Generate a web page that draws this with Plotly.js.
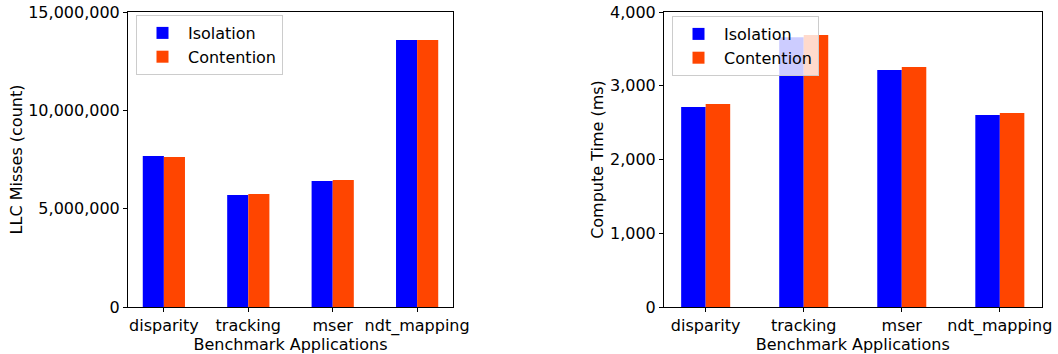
<!DOCTYPE html>
<html>
<head>
<meta charset="utf-8">
<script src="https://cdn.plot.ly/plotly-3.0.1.min.js"></script>
<style>html,body{margin:0;padding:0;background:#fff;}#chart{width:1058px;height:354px;}</style>
</head>
<body>
<div id="chart"></div>
<script>
const categories = ["disparity", "tracking", "mser", "ndt_mapping"];
const seriesNames = ["Isolation", "Contention"];
const llcIsolation = [7680000, 5690000, 6410000, 13570000];
const llcContention = [7630000, 5740000, 6460000, 13570000];
const timeIsolation = [2712, 3657, 3214, 2603];
const timeContention = [2753, 3688, 3254, 2631];
const colors = ["#0000ff", "#ff4500"];

const FONT = "DejaVu Sans, sans-serif";

function bar(y, name, color, xa, ya, legend) {
  return {type: "bar", x: categories, y: y, name: name, marker: {color: color, line: {width: 0}},
    xaxis: xa, yaxis: ya, legend: legend, hoverinfo: "x+y+name"};
}

const data = [
  bar(llcIsolation, seriesNames[0], colors[0], "x", "y", "legend"),
  bar(llcContention, seriesNames[1], colors[1], "x", "y", "legend"),
  bar(timeIsolation, seriesNames[0], colors[0], "x2", "y2", "legend2"),
  bar(timeContention, seriesNames[1], colors[1], "x2", "y2", "legend2")
];

const W = 1058, H = 354;
const yDom = [1 - 307 / H, 1 - 12 / H];

function xAxis(domain, anchor) {
  return {domain: domain, anchor: anchor, type: "category", range: [-0.425, 3.425],
    showline: true, mirror: true, linecolor: "#000", linewidth: 1,
    ticks: "outside", ticklen: 4, tickcolor: "#000", showgrid: false, zeroline: false,
    tickfont: {family: FONT, size: 16, color: "#000"},
    title: {text: "Benchmark Applications", font: {family: FONT, size: 16, color: "#000"}, standoff: 1},
    automargin: false, fixedrange: true};
}
function yAxis(anchor, range, dtick, title, standoff) {
  return {domain: yDom, anchor: anchor, range: range, dtick: dtick, tick0: 0, tickformat: ",d",
    showline: true, mirror: true, linecolor: "#000", linewidth: 1,
    ticks: "outside", ticklen: 4, tickcolor: "#000", showgrid: false, zeroline: false,
    tickfont: {family: FONT, size: 16, color: "#000"},
    title: {text: title, font: {family: FONT, size: 16, color: "#000"}, standoff: standoff},
    automargin: false, fixedrange: true};
}

const legendStyle = {bgcolor: "rgba(255,255,255,0.8)", bordercolor: "#cccccc", borderwidth: 1,
  font: {family: FONT, size: 16, color: "#000"}, xanchor: "left", yanchor: "top",
  tracegroupgap: 0, itemwidth: 41};

const layout = {
  width: W, height: H,
  margin: {l: 0, r: 0, t: 0, b: 0},
  paper_bgcolor: "#fff", plot_bgcolor: "#fff",
  barmode: "group", bargap: 0.5, bargroupgap: 0,
  showlegend: true,
  xaxis: xAxis([128 / W, 453 / W], "y"),
  yaxis: yAxis("x", [0, 15000000], 5000000, "LLC Misses (count)", 1),
  xaxis2: xAxis([664 / W, 1041.5 / W], "y2"),
  yaxis2: yAxis("x2", [0, 4000], 1000, "Compute Time (ms)", 2),
  legend: Object.assign({x: 136 / W, y: 1 - 15 / H}, legendStyle),
  legend2: Object.assign({x: 672 / W, y: 1 - 16 / H}, legendStyle)
};

Plotly.newPlot("chart", data, layout, {displayModeBar: false, staticPlot: true});
</script>
</body>
</html>
